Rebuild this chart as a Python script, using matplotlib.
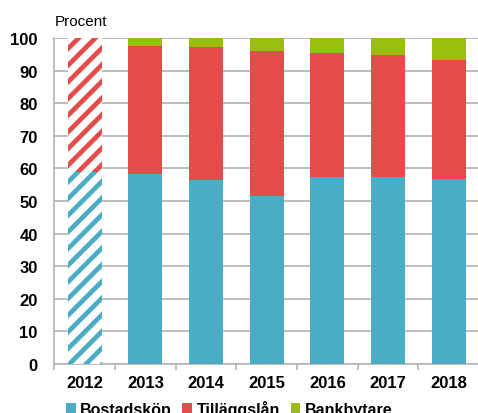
import matplotlib.pyplot as plt
import numpy as np

years = ["2012", "2013", "2014", "2015", "2016", "2017", "2018"]
bostadskop = [59.0, 58.2, 56.3, 51.4, 57.5, 57.4, 56.7]
tillaggslan = [41.0, 39.2, 40.8, 44.7, 38.0, 37.3, 36.4]
bankbytare = [0.0, 2.6, 2.9, 3.9, 4.5, 5.3, 6.9]
series_names = ["Bostadsköp", "Tilläggslån", "Bankbytare"]
yticks = list(range(0, 101, 10))

BLUE = "#4BACC6"
RED = "#E64B4B"
GREEN = "#9ABE0C"
GRID = "#B3B3B3"

plt.rcParams["font.family"] = ["Liberation Sans", "DejaVu Sans"]
plt.rcParams["hatch.linewidth"] = 3.4

fig = plt.figure(figsize=(4.78, 4.14), dpi=100)
ax = fig.add_axes([0.114, 0.1184, 0.888, 0.7874])

x = np.arange(len(years))
width = 0.56
blue = np.array(bostadskop)
red = np.array(tillaggslan)
green = np.array(bankbytare)

# first year is shown hatched (different basis), rest solid
solid = x[1:]
ax.bar(solid, blue[1:], width, color=BLUE, label=series_names[0], zorder=3)
ax.bar(solid, red[1:], width, bottom=blue[1:], color=RED, label=series_names[1], zorder=3)
ax.bar(solid, green[1:], width, bottom=blue[1:] + red[1:], color=GREEN,
       label=series_names[2], zorder=3)

ax.bar(x[0], blue[0], width, facecolor="white", edgecolor=BLUE, hatch="//",
       linewidth=0, zorder=3)
ax.bar(x[0], red[0], width, bottom=blue[0], facecolor="white", edgecolor=RED,
       hatch="//", linewidth=0, zorder=3)

ax.set_xlim(-0.5, len(years) - 0.5)
ax.set_ylim(0, 100)
ax.set_yticks(yticks, labels=[str(v) for v in yticks], fontsize=12, fontweight="bold")
ax.yaxis.grid(True, color=GRID, linewidth=1.2, zorder=0)
ax.set_axisbelow(True)

for side in ["top", "right"]:
    ax.spines[side].set_visible(False)
for side in ["left", "bottom"]:
    ax.spines[side].set_color(GRID)
    ax.spines[side].set_linewidth(1.2)

ax.set_xticks(x, labels=years, fontsize=12, fontweight="bold")
ax.tick_params(axis="x", length=0, pad=8)
ax.set_xticks(np.arange(-0.5, len(years), 1.0), minor=True)
ax.tick_params(axis="x", which="minor", length=4, color=GRID, width=1.2)
ax.tick_params(axis="y", length=0, pad=12)

fig.text(55 / 478, 1 - 26 / 414, "Procent", fontsize=11, va="baseline", ha="left")

ax.legend(loc="upper left", bbox_to_anchor=(0.138, 0.031), bbox_transform=fig.transFigure,
          ncol=3, frameon=False, handlelength=0.6, handleheight=0.6,
          handletextpad=0.3, columnspacing=0.65, borderaxespad=0, borderpad=0,
          prop={"weight": "bold", "size": 11.5})

fig.savefig("out.png", dpi=100)
